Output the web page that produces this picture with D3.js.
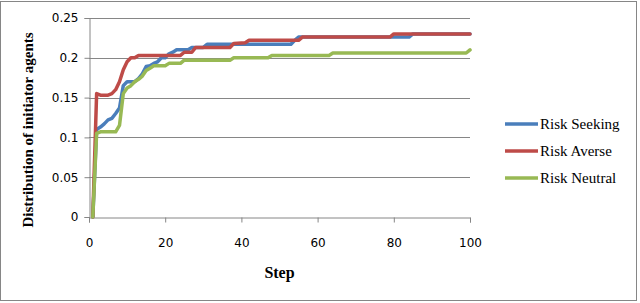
<!DOCTYPE html>
<html>
<head>
<meta charset="utf-8">
<script src="https://cdn.jsdelivr.net/npm/d3@7"></script>
<style>
  body { margin: 0; background: #fff; }
  svg { display: block; }
</style>
</head>
<body>
<div id="chart"></div>
<script>
// series data, [step, value]
var seriesNames = ["Risk Seeking", "Risk Averse", "Risk Neutral"];
var seriesColors = ["#4a7ebb", "#be4b48", "#98b954"];

var riskSeeking = [[1,0],[2,0.11],[3,0.113],[4,0.117],[5,0.122],[6,0.124],[7,0.13],[8,0.137],[9,0.165],[10,0.17],
  [12,0.17],[13,0.174],[14,0.18],[15,0.189],[16,0.19],[17,0.193],[18,0.195],[19,0.2],[20,0.2],[21,0.205],[22,0.207],
  [23,0.21],[26,0.21],[27,0.213],[30,0.213],[31,0.217],[53,0.217],[54,0.222],[55,0.226],[84,0.226],[85,0.23],[100,0.23]];

var riskAverse = [[1,0],[2,0.155],[3,0.153],[5,0.153],[6,0.155],[7,0.16],[8,0.17],[9,0.185],[10,0.195],[11,0.2],
  [12,0.2],[13,0.203],[24,0.203],[25,0.207],[27,0.207],[28,0.213],[37,0.213],[38,0.218],[41,0.219],[42,0.222],
  [55,0.222],[56,0.226],[79,0.226],[80,0.23],[100,0.23]];

var riskNeutral = [[1,0],[2,0.105],[3,0.107],[7,0.107],[8,0.115],[9,0.155],[10,0.162],[11,0.165],[12,0.17],[13,0.173],
  [14,0.177],[15,0.184],[16,0.187],[17,0.19],[20,0.19],[21,0.193],[24,0.193],[25,0.197],[37,0.197],[38,0.2],
  [47,0.2],[48,0.203],[63,0.203],[64,0.206],[99,0.206],[100,0.21]];

var xTicks = [0, 20, 40, 60, 80, 100];
var yTicks = [0, 0.05, 0.1, 0.15, 0.2, 0.25];

var width = 640, height = 303;
var margin = {left: 89, right: 170, top: 18, bottom: 86};

var svg = d3.select("#chart").append("svg").attr("width", width).attr("height", height);

// outer frame
svg.append("rect").attr("x", 0.5).attr("y", 1.5).attr("width", 636).attr("height", 299)
  .attr("fill", "none").attr("stroke", "#868686").attr("stroke-width", 1);

var x = d3.scaleLinear().domain([0, 100]).range([margin.left, width - margin.right]);
var y = d3.scaleLinear().domain([0, 0.25]).range([height - margin.bottom, margin.top]);

// gridlines
svg.append("g").selectAll("line").data(yTicks.slice(1)).enter().append("line")
  .attr("x1", x(0)).attr("x2", x(100))
  .attr("y1", function(d){ return Math.round(y(d)) + 0.5; })
  .attr("y2", function(d){ return Math.round(y(d)) + 0.5; })
  .attr("stroke", "#868686").attr("stroke-width", 1);

// y axis
var yAxis = d3.axisLeft(y).tickValues(yTicks).tickSize(5).tickPadding(6)
  .tickFormat(function(d){ return d === 0 ? "0" : String(+d.toFixed(2)); });
var gy = svg.append("g").attr("transform", "translate(" + (Math.round(x(0)) + 0.5) + ",0)").call(yAxis);

// x axis
var xAxis = d3.axisBottom(x).tickValues(xTicks).tickSize(5).tickPadding(16);
var gx = svg.append("g").attr("transform", "translate(0," + (Math.round(y(0)) + 0.5) + ")").call(xAxis);

[gx, gy].forEach(function(g){
  g.select(".domain").attr("stroke", "#868686");
  g.selectAll(".tick line").attr("stroke", "#868686");
  g.selectAll(".tick text").attr("fill", "#000").style("font-family", "DejaVu Sans").style("font-size", "12px");
});

// lines
var line = d3.line().x(function(d){ return x(d[0]); }).y(function(d){ return y(d[1]); });
var allSeries = [riskSeeking, riskAverse, riskNeutral];
allSeries.forEach(function(s, i){
  svg.append("path").datum(s).attr("d", line)
    .attr("fill", "none").attr("stroke", seriesColors[i]).attr("stroke-width", 3.5)
    .attr("stroke-linejoin", "round").attr("stroke-linecap", "round");
});

// axis titles
svg.append("text").attr("x", x(50)).attr("y", 278).attr("text-anchor", "middle")
  .style("font-family", "Liberation Serif").style("font-weight", "bold").style("font-size", "16px")
  .text("Step");

svg.append("text").attr("transform", "translate(33,130) rotate(-90)").attr("text-anchor", "middle")
  .style("font-family", "Liberation Serif").style("font-weight", "bold").style("font-size", "15px")
  .text("Distribution of initiator agents");

// legend
var legend = svg.append("g").attr("transform", "translate(505,124)");
seriesNames.forEach(function(name, i){
  legend.append("line").attr("x1", 0).attr("x2", 33).attr("y1", i * 27).attr("y2", i * 27)
    .attr("stroke", seriesColors[i]).attr("stroke-width", 3.5);
  legend.append("text").attr("x", 35).attr("y", i * 27 + 5)
    .style("font-family", "Liberation Serif").style("font-size", "15px")
    .text(name);
});
</script>
</body>
</html>
